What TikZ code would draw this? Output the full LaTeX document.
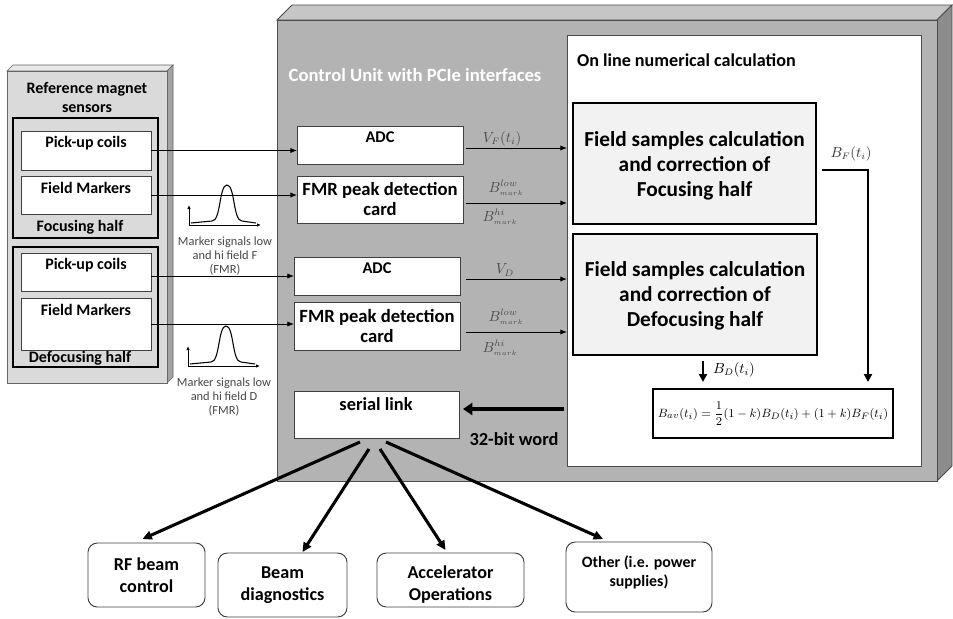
\documentclass[tikz,border=0pt]{standalone}
\usepackage{fontspec}
\setmainfont{Carlito}
\usetikzlibrary{arrows.meta,fit,calc}

\definecolor{cuFront}{HTML}{B3B3B3}
\definecolor{cuTop}{HTML}{C6C6C6}
\definecolor{cuSide}{HTML}{8C8C8C}
\definecolor{refFront}{HTML}{DADADA}
\definecolor{refTop}{HTML}{E9E9E9}
\definecolor{refSide}{HTML}{A3A3A3}
\definecolor{calcFill}{HTML}{F2F2F2}
\definecolor{noteGray}{HTML}{4D4D4D}

\newcommand{\fsz}[2]{\fontsize{#1}{#2}\selectfont}

% small sketch of a marker peak on its two axes
\newcommand{\drawmarkerplot}{%
  \draw[plotaxis] (189,225) -- (189,205);
  \draw[plotaxis] (189,225) -- (261,225);
  \draw[line width=0.8pt] (191,223) -- (212,221)
    .. controls (221,221) and (219,185) .. (227,185)
    .. controls (235,185) and (233,221) .. (242,221) -- (256,223);
}

\tikzset{
  every node/.style={inner sep=0pt, outer sep=0pt},
  rbox/.style={draw=black!75, line width=0.6pt, fill=white},
  halfbox/.style={draw=black, line width=1.9pt},
  calcbox/.style={draw=black, line width=1.5pt, fill=calcFill},
  userbox/.style={draw=black!75, line width=0.7pt, fill=white, rounded corners=7pt},
  sensorfont/.style={font=\bfseries\fsz{12}{14.25}, align=center},
  cardfont/.style={font=\bfseries\fsz{14}{15}, align=center},
  bigfont/.style={font=\bfseries\fsz{16}{18.75}, align=center},
  userfont/.style={font=\bfseries\fsz{13.6}{16.5}, align=center},
  notefont/.style={font=\fsz{9.3}{10.5}, align=center, text=black!72},
  mathlbl/.style={font=\fsz{10.5}{12}, text=noteGray},
  sig/.style={-{Latex[length=5pt,width=4pt]}, line width=0.7pt},
  plotaxis/.style={-{Latex[length=3pt,width=2.6pt]}, line width=0.6pt},
  thickline/.style={-{Triangle[length=6pt,width=6pt]}, line width=1.9pt},
  fatarrow/.style={-{Triangle[length=7pt,width=9pt]}, line width=3.2pt},
  outarrow/.style={-{Triangle[length=7pt,width=6.5pt]}, line width=2.3pt},
}

\begin{document}
\begin{tikzpicture}[x=0.75pt,y=-0.75pt]
\useasboundingbox (0,0) rectangle (953,618);
\fill[white] (0,0) rectangle (953,618);

% ---- control unit: a slab with top and side faces
\filldraw[fill=cuTop, draw=black!70, line width=0.6pt]
  (277,20) -- (292,5) -- (952,5) -- (937,20) -- cycle;
\filldraw[fill=cuSide, draw=black!70, line width=0.6pt]
  (937,20) -- (952,5) -- (952,466) -- (937,481) -- cycle;
\node[fit={(277,20) (937,481)}, fill=cuFront, draw=black!70, line width=0.6pt] (cu) {};
\node[font=\bfseries\fsz{14}{16}, text=white] (cutitle) at (415,75) {Control Unit with PCIe interfaces};

\node[fit={(567,35) (921,466)}, fill=white, draw=black!70, line width=0.6pt] (calc) {};
\node[font=\bfseries\fsz{13.6}{16}, anchor=west] (calctitle) at (577,60) {On line numerical calculation};

% ---- reference magnet sensors panel
\filldraw[fill=refTop, draw=black!60, line width=0.5pt]
  (7,71) -- (13,65) -- (173,65) -- (167,71) -- cycle;
\filldraw[fill=refSide, draw=black!60, line width=0.5pt]
  (167,71) -- (173,65) -- (173,377) -- (167,383) -- cycle;
\node[fit={(7,71) (167,383)}, fill=refFront, draw=black!60, line width=0.5pt] (ref) {};
\node[sensorfont] (reftitle) at (87,97.5) {Reference magnet\\sensors};

\node[halfbox, fit={(13,118) (158,238)}] (halfF) {};
\node[rbox, fit={(21,131) (151,170)}] (pkF) {};
\node[sensorfont] (pkFt) at (86,143) {Pick-up coils};
\node[rbox, fit={(21,176) (151,214)}] (fmF) {};
\node[sensorfont] (fmFt) at (86,188) {Field Markers};
\node[sensorfont] (halfFt) at (80,227) {Focusing half};

\node[halfbox, fit={(13,247) (158,367)}] (halfD) {};
\node[rbox, fit={(21,253) (151,291)}] (pkD) {};
\node[sensorfont] (pkDt) at (86,265) {Pick-up coils};
\node[rbox, fit={(21,298) (151,350)}] (fmD) {};
\node[sensorfont] (fmDt) at (86,310) {Field Markers};
\node[sensorfont] (halfDt) at (80,358) {Defocusing half};

% ---- marker signal sketches
\drawmarkerplot
\node[notefont] (mkF) at (225,256) {Marker signals low\\and hi field F\\(FMR)};
\begin{scope}[shift={(-1,141)}]
  \drawmarkerplot
\end{scope}
\node[notefont] (mkD) at (224,397) {Marker signals low\\and hi field D\\(FMR)};

% ---- acquisition cards
\node[rbox, fit={(297,126) (463,164)}] (adc1) {};
\node[font=\bfseries\fsz{12.3}{14}] (adc1t) at (380,137) {ADC};
\node[rbox, fit={(297,176) (463,223)}] (fmr1) {};
\node[cardfont] (fmr1t) at (fmr1) {FMR peak detection\\card};
\node[rbox, fit={(294,257) (460,295)}] (adc2) {};
\node[font=\bfseries\fsz{12.3}{14}] (adc2t) at (377,268) {ADC};
\node[rbox, fit={(294,302) (460,350)}] (fmr2) {};
\node[cardfont] (fmr2t) at (fmr2) {FMR peak detection\\card};

\node[rbox, fit={(294,391) (459,438)}] (serial) {};
\node[font=\bfseries\fsz{13.8}{16}] (serialt) at (376,404) {serial link};

% sensors to cards
\draw[sig] (pkF.east) -- (pkF.east -| adc1.west);
\draw[sig] (fmF.east) -- (fmF.east -| fmr1.west);
\draw[sig] (adc2.west -| pkD.east) -- (adc2.west);
\draw[sig] (fmD.east) -- (fmD.east -| fmr2.west);

% cards to the numerical calculation
\draw[sig] ($(adc1.east)+(3,3)$) -- ($(adc1.east -| calc.west)+(0,3)$);
\draw[sig] ($(fmr1.east)+(3,3.5)$) -- ($(fmr1.east -| calc.west)+(0,3.5)$);
\draw[sig] ($(adc2.east)+(6,3)$) -- ($(adc2.east -| calc.west)+(0,3)$);
\draw[sig] ($(fmr2.east)+(6,6)$) -- ($(fmr2.east -| calc.west)+(0,6)$);

\node[mathlbl] (lvf) at (502,139) {$V_F(t_i)$};
\node[mathlbl] (lb1a) at (506,188) {$B^{low}_{\scriptscriptstyle mark}$};
\node[mathlbl] (lb1b) at (500,217) {$B^{hi}_{\scriptscriptstyle mark}$};
\node[mathlbl] (lvd) at (505,270) {$V_D$};
\node[mathlbl] (lb2a) at (506,317) {$B^{low}_{\scriptscriptstyle mark}$};
\node[mathlbl] (lb2b) at (500,348) {$B^{hi}_{\scriptscriptstyle mark}$};

% ---- field calculation
\node[calcbox, fit={(573,103) (816,224)}] (cF) {};
\node[bigfont] (cFt) at (694.5,166) {Field samples calculation\\and correction of\\Focusing half};
\node[calcbox, fit={(573,234) (817,355)}] (cD) {};
\node[bigfont] (cDt) at (695,296) {Field samples calculation\\and correction of\\Defocusing half};

\node[draw=black, line width=1.2pt, fill=white, fit={(653,389) (893,438)}] (form) {};
\node[font=\fsz{9.5}{11}] (fml) at (form) {$\displaystyle B_{av}(t_i)=\frac{1}{2}(1-k)B_D(t_i)+(1+k)B_F(t_i)$};

\draw[thickline] ($(cF.east)+(6,6.5)$) -| ($(form.north)+(95,-7)$);
\node[font=\fsz{10.5}{12}, text=black!80] (lbf) at (851,154) {$B_F(t_i)$};
\draw[thickline] ($(cD.south)+(8,6)$) -- ($(form.north)+(-70,-7)$);
\node[font=\fsz{10.5}{12}, anchor=west] (lbd) at (713,370) {$B_D(t_i)$};

% ---- result word back to the serial link
\draw[fatarrow] ($(serial.east -| calc.west)+(-3,-5.5)$) -- ($(serial.east)+(4,-5.5)$);
\node[font=\bfseries\fsz{13.8}{16}] (wordt) at (514,439) {32-bit word};

% ---- distribution to the users
\node[userbox, fit={(88,543) (205,607)}] (rf) {};
\node[userfont] (rft) at (rf) {RF beam\\control};
\node[userbox, fit={(218,553) (347,617)}] (bd) {};
\node[userfont] (bdt) at (bd) {Beam\\diagnostics};
\node[userbox, fit={(377,553) (524,607)}] (ao) {};
\node[userfont] (aot) at ($(ao)+(0,5)$) {Accelerator\\Operations};
\node[userbox, fit={(566,542) (712,612)}] (ot) {};
\node[font=\bfseries\fsz{11.9}{14.25}, align=center] (ott) at ($(ot)+(0,-5)$) {Other (i.e. power\\supplies)};

\coordinate (o1) at ($(serial.south)+(-16.5,4)$);
\coordinate (o2) at ($(serial.south)+(-7.5,11)$);
\coordinate (o3) at ($(serial.south)+(3.5,11)$);
\coordinate (o4) at ($(serial.south)+(9.5,4)$);
\draw[outarrow] (o1) -- ($(rf.north)+(-4,-4)$);
\draw[outarrow] (o2) -- ($(bd.north)+(20,-1)$);
\draw[outarrow] (o3) -- ($(ao.north)+(-5,-3)$);
\draw[outarrow] (o4) -- ($(ot.north)+(-36,-3)$);
\end{tikzpicture}
\end{document}
